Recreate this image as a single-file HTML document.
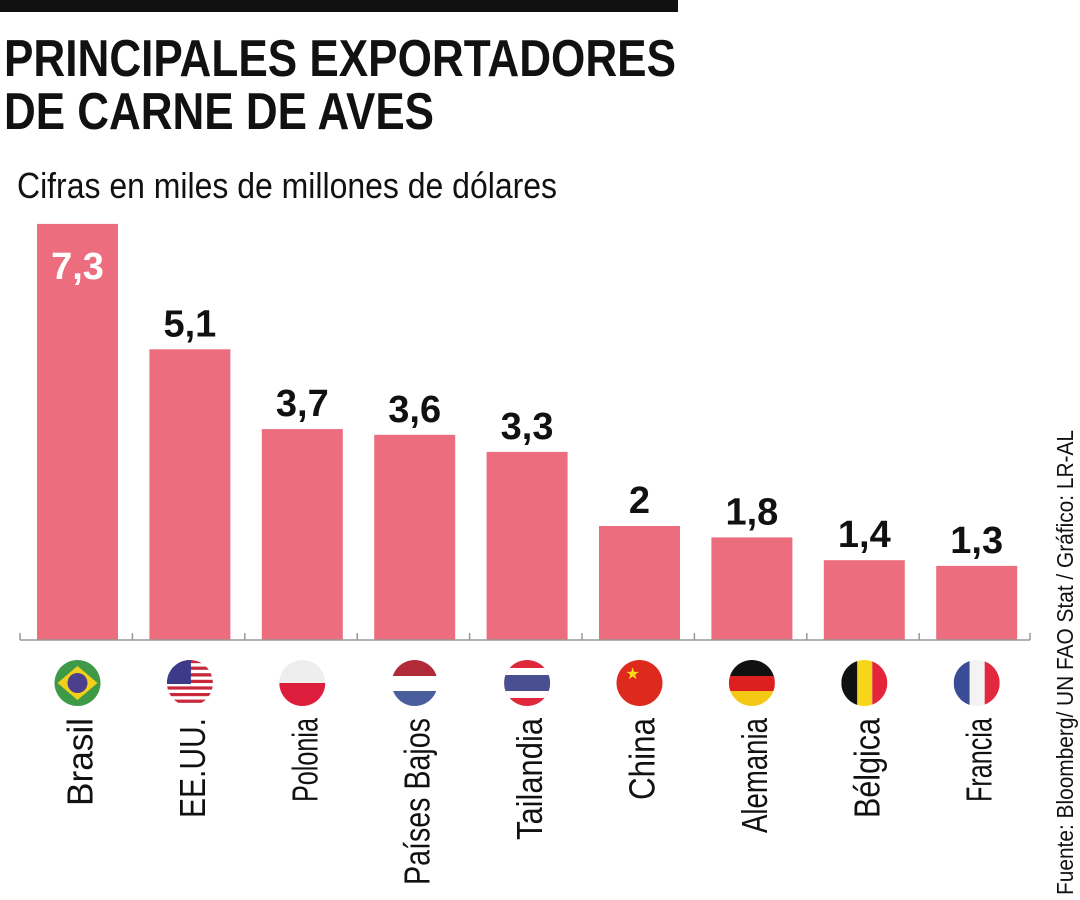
<!DOCTYPE html>
<html><head><meta charset="utf-8"><style>
html,body{margin:0;padding:0;background:#fff;}
svg{display:block;font-family:"Liberation Sans Narrow","Liberation Sans",sans-serif;}
</style></head><body>
<svg id="chart" width="1080" height="900" viewBox="0 0 1080 900">
<defs>
<clipPath id="fc"><circle cx="0" cy="0" r="23"/></clipPath>
</defs>
<rect x="0" y="0" width="678" height="12" fill="#111"/>
<text x="4" y="76" font-size="52" font-weight="bold" textLength="672" lengthAdjust="spacingAndGlyphs" fill="#111">PRINCIPALES EXPORTADORES</text>
<text x="4" y="129" font-size="52" font-weight="bold" textLength="430" lengthAdjust="spacingAndGlyphs" fill="#111">DE CARNE DE AVES</text>
<text x="17" y="198" font-size="36" textLength="540" lengthAdjust="spacingAndGlyphs" fill="#111">Cifras en miles de millones de dólares</text>
<g id="bars"></g>
<line x1="20" y1="640" x2="1030" y2="640" stroke="#999" stroke-width="1.5"/>
<g id="ticks"></g>
<g id="flags"></g>
<g id="labels"></g>
<text transform="translate(1073,895) rotate(-90)" font-size="23" textLength="465" lengthAdjust="spacingAndGlyphs" fill="#111">Fuente: Bloomberg/ UN FAO Stat / Gráfico: LR-AL</text>
</svg>
<script>
const categories = ["Brasil","EE.UU.","Polonia","Países Bajos","Tailandia","China","Alemania","Bélgica","Francia"];
const values = [7.3,5.1,3.7,3.6,3.3,2,1.8,1.4,1.3];
const valueLabels = ["7,3","5,1","3,7","3,6","3,3","2","1,8","1,4","1,3"];
const labelLengths = [88,100,84,167,122,82,115,100,84];

const NS="http://www.w3.org/2000/svg";
const svg=document.getElementById('chart');
const x0=37, step=112.4, bw=81, baseY=640, pxPerUnit=57;
const xPos=i=>x0+i*step;
const yPos=v=>baseY-v*pxPerUnit;
function mk(tag,attrs,parent){const e=document.createElementNS(NS,tag);for(const k in attrs)e.setAttribute(k,attrs[k]);parent.appendChild(e);return e;}
const gB=document.getElementById('bars'),gT=document.getElementById('ticks'),gF=document.getElementById('flags'),gL=document.getElementById('labels');

for(let i=0;i<=categories.length;i++){
  const tx=i<categories.length?xPos(i)-17:1030;
  const t=mk('line',{x1:tx,y1:633,x2:tx,y2:640,stroke:'#999','stroke-width':1.5},gT);
  
  
}

values.forEach((v,i)=>{
  const x=xPos(i),y=yPos(v),cx=x+bw/2;
  const r=mk('rect',{x:x,y:y,width:bw,height:baseY-y,fill:'#ec6d7e'},gB);
  
  
  const inside=i===0;
  const t=mk('text',{x:cx,y:inside?y+55:y-13,'text-anchor':'middle','font-size':38,'font-weight':'bold',fill:inside?'#fff':'#111'},gB);
  t.textContent=valueLabels[i];
  
  
  const lb=mk('text',{transform:`translate(${cx+15},718) rotate(-90)`,'text-anchor':'end','font-size':36,fill:'#111',textLength:labelLengths[i],lengthAdjust:'spacingAndGlyphs'},gL);
  lb.textContent=categories[i];
  
  
  const g=mk('g',{transform:`translate(${cx},683)`},gF);
  
  
  const c=mk('g',{'clip-path':'url(#fc)'},g);
  const R=(x,y,w,h,f)=>mk('rect',{x,y,width:w,height:h,fill:f},c);
  const name=categories[i];
  if(name==="Brasil"){R(-23,-23,46,46,'#3f9a48');mk('polygon',{points:'0,-17 20,0 0,17 -20,0',fill:'#f1cf1a'},c);mk('circle',{cx:0,cy:0,r:10,fill:'#4b3f8e'},c);}
  else if(name==="EE.UU."){for(let k=0;k<7;k++){R(-23,-23+k*6.6,46,3.3,'#c8283c');R(-23,-19.7+k*6.6,46,3.3,'#fff');}R(-23,-23,24,24,'#3b3b8a');}
  else if(name==="Polonia"){R(-23,-23,46,23,'#eee');R(-23,0,46,23,'#dc1e3c');}
  else if(name==="Países Bajos"){R(-23,-23,46,16,'#b02a3a');R(-23,-7,46,15,'#fff');R(-23,8,46,15,'#4a5d9c');}
  else if(name==="Tailandia"){R(-23,-23,46,46,'#e0283c');R(-23,-15,46,30,'#fff');R(-23,-8,46,16,'#4a4f92');}
  else if(name==="China"){R(-23,-23,46,46,'#de2a1e');mk('text',{x:-14,y:-4,'font-size':16,fill:'#f8dc1a','font-family':'DejaVu Sans'},c).textContent='★';}
  else if(name==="Alemania"){R(-23,-23,46,16,'#111');R(-23,-7,46,15,'#dd1f1f');R(-23,8,46,15,'#f5c816');}
  else if(name==="Bélgica"){R(-23,-23,16,46,'#111');R(-7,-23,15,46,'#f6d51b');R(8,-23,15,46,'#e5253a');}
  else if(name==="Francia"){R(-23,-23,16,46,'#3a4c95');R(-7,-23,15,46,'#f3f3f3');R(8,-23,15,46,'#e2283c');}
});
</script>
</body></html>
